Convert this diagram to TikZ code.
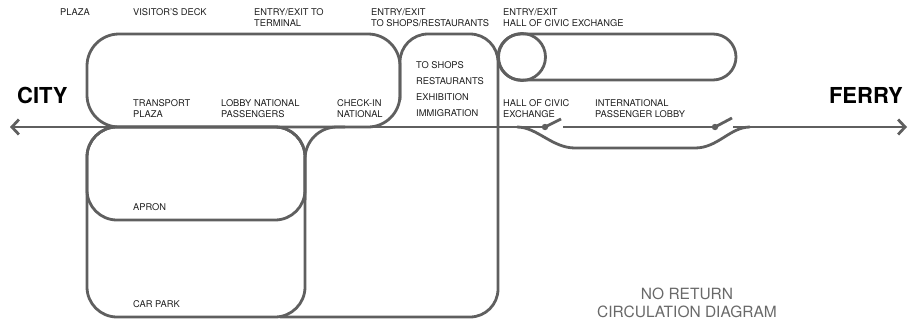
\documentclass[tikz,border=0pt]{standalone}
\usepackage{fontspec}
\setmainfont{TeX Gyre Heros}
\usetikzlibrary{arrows.meta}
\definecolor{linegray}{RGB}{95,95,95}
\definecolor{labelgray}{RGB}{30,30,30}
\definecolor{titlegray}{RGB}{105,105,105}
\begin{document}
\begin{tikzpicture}[x=1pt,y=-1pt,
    route/.style={draw=linegray,line width=2.8pt},
    tipbarb/.style={-{Straight Barb[length=7pt,width=15pt]}},
    lbl/.style={anchor=north west,inner sep=0pt,align=left,text=labelgray,font=\fontsize{9.3}{11}\selectfont},
    endlbl/.style={inner sep=0pt,text=black,font=\fontsize{22}{22}\selectfont\bfseries}]
    \useasboundingbox (0,0) rectangle (910,322);
    % main line with the two one-way switches
    \coordinate (cityend) at (10,127);
    \coordinate (ferryend) at (907,127);
    \coordinate (swa) at (545,127);
    \coordinate (swb) at (715,127);
    \draw[route,tipbarb] (swa) -- (cityend);
    \draw[route] (563,127) -- (swb);
    \draw[route,tipbarb] (733,127) -- (ferryend);
    \fill[linegray] (swa) circle (3.2pt);
    \fill[linegray] (swb) circle (3.2pt);
    \draw[route] (swa) -- ++(16,-8);
    \draw[route] (swb) -- ++(17,-9);
    % bypass below the international lobby
    \draw[route] (517,127) .. controls (537,127) and (552,148) .. (575,148) -- (695,148) .. controls (718,148) and (730,127) .. (750,127);
    % upper level
    \draw[route,rounded corners=32pt] (87,34) rectangle (400,127);
    \draw[route,rounded corners=28pt] (400,100) -- (400,34) -- (498,34) -- (498,317) -- (280,317);
    \draw[route,rounded corners=32pt] (305,200) -- (305,127) -- (345,127);
    \draw[route,rounded corners=23pt] (498,34) rectangle (736,80);
    \draw[route] (522,57) circle (23.5pt);
    % lower level
    \draw[route,rounded corners=30pt] (87,127) rectangle (305,220);
    \draw[route,rounded corners=30pt] (87,127) rectangle (305,317);
    % labels
    \node[endlbl,anchor=base west] (city) at (17,103) {CITY};
    \node[endlbl,anchor=base east] (ferry) at (903,103) {FERRY};
    \node[lbl] (plaza) at (60,8.5) {PLAZA};
    \node[lbl] (deck) at (133,8.5) {VISITOR’S DECK};
    \node[lbl] (entryterm) at (254,8.5) {ENTRY/EXIT TO\\TERMINAL};
    \node[lbl] (entryshops) at (371,8.5) {ENTRY/EXIT\\TO SHOPS/RESTAURANTS};
    \node[lbl] (entryhall) at (503,8.5) {ENTRY/EXIT\\HALL OF CIVIC EXCHANGE};
    \node[lbl] (transport) at (133,99.5) {TRANSPORT\\PLAZA};
    \node[lbl] (lobbynat) at (221,99.5) {LOBBY NATIONAL\\PASSENGERS};
    \node[lbl] (checkin) at (337,99.5) {CHECK-IN\\NATIONAL};
    \node[lbl,font=\fontsize{9.3}{16}\selectfont] (shops) at (416,61.5) {TO SHOPS\\RESTAURANTS\\EXHIBITION\\IMMIGRATION};
    \node[lbl] (hall) at (503,99.5) {HALL OF CIVIC\\EXCHANGE};
    \node[lbl] (intlobby) at (595,99.5) {INTERNATIONAL\\PASSENGER LOBBY};
    \node[lbl] (apron) at (133,203.5) {APRON};
    \node[lbl] (carpark) at (133,300) {CAR PARK};
    \node[align=center,inner sep=0pt,text=titlegray,font=\fontsize{15.5}{18.5}\selectfont] (title) at (687,303) {NO RETURN\\CIRCULATION DIAGRAM};
\end{tikzpicture}
\end{document}
